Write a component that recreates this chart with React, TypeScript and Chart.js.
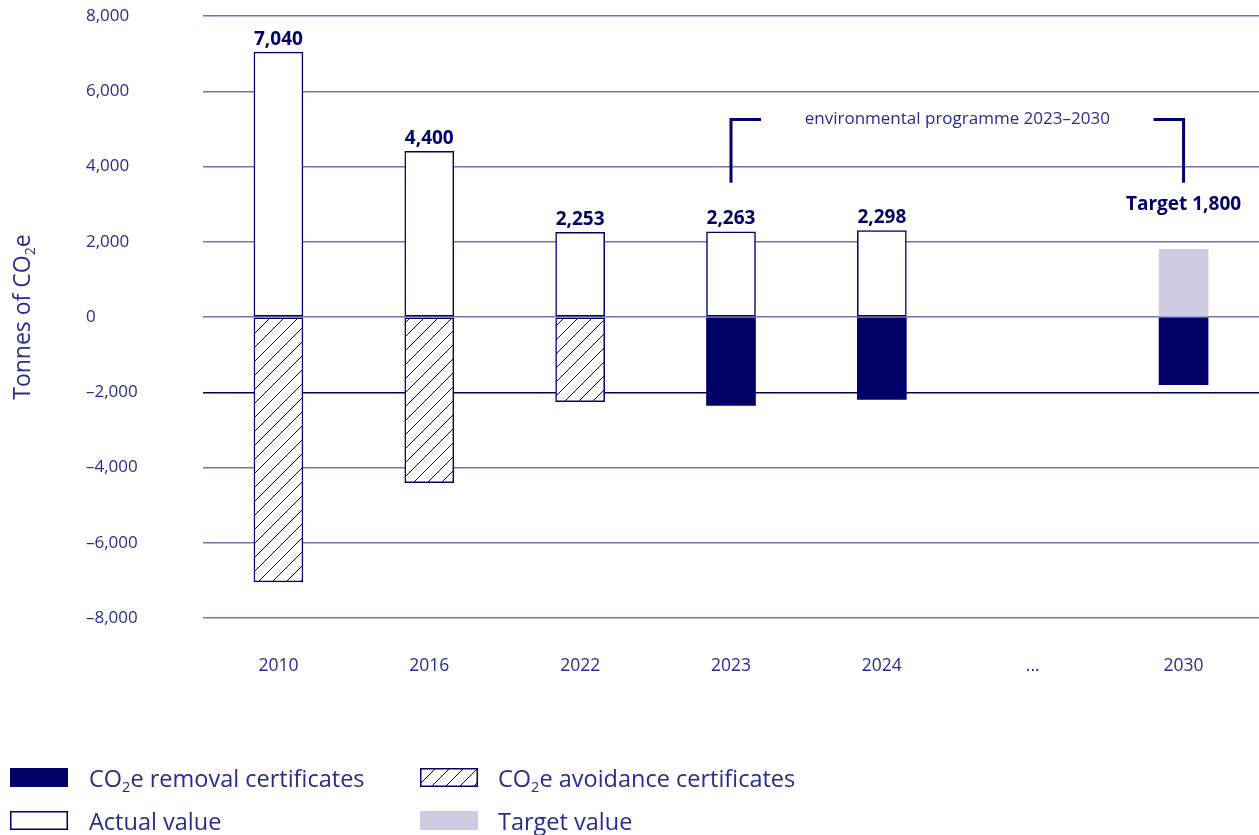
import React, { useEffect, useRef } from 'react';
import { Chart, registerables } from 'chart.js';

Chart.register(...registerables);

// ---------- data ----------
const categories = ['2010', '2016', '2022', '2023', '2024', '...', '2030'];
const actualValues = [7040, 4400, 2253, 2263, 2298, null, null];
const targetValues = [null, null, null, null, null, null, 1800];
const avoidanceValues = [-7040, -4400, -2253, null, null, null, null];
const removalValues = [null, null, null, -2350, -2190, null, -1800];
const yTickValues = [-8000, -6000, -4000, -2000, 0, 2000, 4000, 6000, 8000];
const targetLabel = 'Target 1,800';
const programmeLabel = 'environmental programme 2023\u20132030';
const programmeStartIndex = 3;
const programmeEndIndex = 6;
const yTitleParts: [string, boolean][] = [['Tonnes of CO', false], ['2', true], ['e', false]];
const legendRemoval: [string, boolean][] = [['CO', false], ['2', true], ['e removal certificates', false]];
const legendAvoidance: [string, boolean][] = [['CO', false], ['2', true], ['e avoidance certificates', false]];
const legendActual: [string, boolean][] = [['Actual value', false]];
const legendTarget: [string, boolean][] = [['Target value', false]];

// ---------- style ----------
const NAVY = '#000066';
const TEXT = '#2b2b8e';
const GRID = '#7373b3';
const TARGET_FILL = '#ccccE2';
const FONT = '"Open Sans", "Noto Sans", sans-serif';

function fmt(v: number): string {
  const s = Math.abs(v).toLocaleString('en-US');
  return v < 0 ? '\u2013' + s : s;
}

function makeHatch(): CanvasPattern | string {
  const c = document.createElement('canvas');
  const n = 14;
  c.width = n;
  c.height = n;
  const x = c.getContext('2d');
  if (!x) return '#fff';
  x.fillStyle = '#ffffff';
  x.fillRect(0, 0, n, n);
  x.strokeStyle = NAVY;
  x.lineWidth = 1;
  x.beginPath();
  x.moveTo(0, n);
  x.lineTo(n, 0);
  x.moveTo(-2, 2);
  x.lineTo(2, -2);
  x.moveTo(n - 2, n + 2);
  x.lineTo(n + 2, n - 2);
  x.stroke();
  return x.createPattern(c, 'repeat') || '#fff';
}

function drawParts(ctx: CanvasRenderingContext2D, parts: [string, boolean][], x: number, y: number, size: number) {
  let cx = x;
  for (const [t, sub] of parts) {
    const s = sub ? size * 0.62 : size;
    ctx.font = `${s}px ${FONT}`;
    ctx.fillText(t, cx, sub ? y + size * 0.22 : y);
    cx += ctx.measureText(t).width;
  }
}

function partsWidth(ctx: CanvasRenderingContext2D, parts: [string, boolean][], size: number) {
  let w = 0;
  for (const [t, sub] of parts) {
    ctx.font = `${sub ? size * 0.62 : size}px ${FONT}`;
    w += ctx.measureText(t).width;
  }
  return w;
}

const annotationsPlugin = {
  id: 'annotations',
  afterDatasetsDraw(chart: any) {
    const ctx: CanvasRenderingContext2D = chart.ctx;
    const xs = chart.scales.x;
    const ys = chart.scales.y;
    const area = chart.chartArea;
    ctx.save();

    // value labels
    ctx.fillStyle = NAVY;
    ctx.textAlign = 'center';
    ctx.textBaseline = 'middle';
    ctx.font = `bold 19px ${FONT}`;
    const m0 = chart.getDatasetMeta(0);
    m0.data.forEach((bar: any, i: number) => {
      const v = actualValues[i];
      if (v == null) return;
      ctx.fillText(fmt(v), bar.x, bar.y - 13);
    });
    const m1 = chart.getDatasetMeta(1);
    m1.data.forEach((bar: any, i: number) => {
      if (targetValues[i] == null) return;
      ctx.fillText(targetLabel, bar.x, bar.y - 45);
    });

    // programme bracket
    const x1 = xs.getPixelForValue(programmeStartIndex);
    const x2 = xs.getPixelForValue(programmeEndIndex);
    const yTop = ys.getPixelForValue(5250);
    const yBot = ys.getPixelForValue(3570);
    ctx.strokeStyle = NAVY;
    ctx.lineWidth = 3;
    ctx.beginPath();
    ctx.moveTo(x1, yBot);
    ctx.lineTo(x1, yTop);
    ctx.lineTo(x1 + 30, yTop);
    ctx.moveTo(x2 - 30, yTop);
    ctx.lineTo(x2, yTop);
    ctx.lineTo(x2, yBot);
    ctx.stroke();
    ctx.fillStyle = TEXT;
    ctx.font = `17px ${FONT}`;
    ctx.fillText(programmeLabel, (x1 + x2) / 2, yTop);

    // y axis title
    ctx.save();
    const tSize = 23;
    const tw = partsWidth(ctx, yTitleParts, tSize);
    ctx.translate(30, (area.top + area.bottom) / 2);
    ctx.rotate(-Math.PI / 2);
    ctx.textAlign = 'left';
    ctx.textBaseline = 'alphabetic';
    ctx.fillStyle = TEXT;
    drawParts(ctx, yTitleParts, -tw / 2, 0, tSize);
    ctx.restore();

    // legend
    ctx.textAlign = 'left';
    ctx.textBaseline = 'alphabetic';
    const lSize = 23.5;
    const col1 = 10, col2 = 420, boxW = 58, textOff = 79;
    const row1 = 768, row2 = 811, boxH = 19;
    ctx.fillStyle = NAVY;
    ctx.fillRect(col1, row1, boxW, boxH);
    ctx.fillStyle = chart.$hatch;
    ctx.fillRect(col2, row1, boxW, boxH);
    ctx.strokeStyle = NAVY;
    ctx.lineWidth = 1.5;
    ctx.strokeRect(col2 + 0.75, row1 + 0.75, boxW - 1.5, boxH - 1.5);
    ctx.fillStyle = '#ffffff';
    ctx.fillRect(col1, row2, boxW, boxH);
    ctx.strokeRect(col1 + 0.75, row2 + 0.75, boxW - 1.5, boxH - 1.5);
    ctx.fillStyle = TARGET_FILL;
    ctx.fillRect(col2, row2, boxW, boxH);

    ctx.fillStyle = TEXT;
    drawParts(ctx, legendRemoval, col1 + textOff, row1 + 19, lSize);
    drawParts(ctx, legendAvoidance, col2 + textOff - 1, row1 + 19, lSize);
    drawParts(ctx, legendActual, col1 + textOff, row2 + 19, lSize);
    drawParts(ctx, legendTarget, col2 + textOff - 1, row2 + 19, lSize);

    ctx.restore();
  },
};

export default function App() {
  const ref = useRef<HTMLCanvasElement>(null);

  useEffect(() => {
    if (!ref.current) return;
    const hatch = makeHatch();
    const barCommon = { barThickness: 49, borderSkipped: false as const };
    const chart: any = new Chart(ref.current, {
      type: 'bar',
      data: {
        labels: categories,
        datasets: [
          { label: 'Actual value', data: actualValues as any, backgroundColor: '#ffffff', borderColor: NAVY, borderWidth: 1.5, ...barCommon },
          { label: 'Target value', data: targetValues as any, backgroundColor: TARGET_FILL, borderWidth: 0, ...barCommon },
          { label: 'CO2e avoidance certificates', data: avoidanceValues as any, backgroundColor: hatch as any, borderColor: NAVY, borderWidth: 1.5, ...barCommon },
          { label: 'CO2e removal certificates', data: removalValues as any, backgroundColor: NAVY, borderWidth: 0, ...barCommon },
        ],
      },
      options: {
        animation: false,
        responsive: false,
        layout: { padding: { left: 86, top: 16, right: 0, bottom: 120 } },
        plugins: { legend: { display: false }, tooltip: { enabled: false } },
        scales: {
          x: {
            stacked: true,
            grid: { display: false, drawTicks: false },
            border: { display: false },
            ticks: { color: TEXT, font: { family: FONT, size: 17.5 }, padding: 38 },
          },
          y: {
            stacked: true,
            min: -8000,
            max: 8000,
            afterBuildTicks: (s: any) => {
              s.ticks = yTickValues.map((v) => ({ value: v }));
            },
            afterFit: (s: any) => {
              s.width = 117;
            },
            grid: {
              color: (c: any) => (c.tick && c.tick.value === -2000 ? NAVY : GRID),
              lineWidth: 1.5,
              drawTicks: false,
            },
            border: { display: false },
            ticks: {
              crossAlign: 'far',
              padding: 4,
              color: TEXT,
              font: { family: FONT, size: 17 },
              callback: (v: any) => fmt(Number(v)),
            },
          },
        },
      },
      plugins: [annotationsPlugin],
    });
    chart.$hatch = hatch;
    chart.draw();
    return () => chart.destroy();
  }, []);

  return (
    <div style={{ position: 'absolute', left: 0, top: 0, width: 1259, height: 835, background: '#fff' }}>
      <canvas ref={ref} width={1259} height={835} />
    </div>
  );
}
